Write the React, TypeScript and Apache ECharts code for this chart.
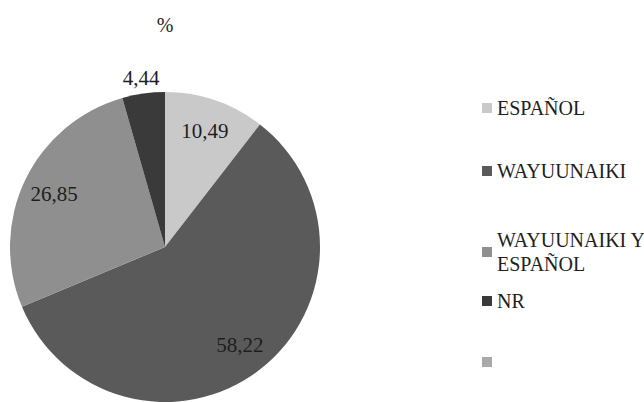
import React, { useEffect, useRef } from "react";
import * as echarts from "echarts";

const categories = ["ESPAÑOL", "WAYUUNAIKI", "WAYUUNAIKI Y\nESPAÑOL", "NR", " "];
const values = [10.49, 58.22, 26.85, 4.44, 0];
const valueLabels = ["10,49", "58,22", "26,85", "4,44", ""];
const sliceColors = ["#c9c9c9", "#5a5a5a", "#8f8f8f", "#3a3a3a", "#a9a9a9"];
const legendTops = [91, 154, 211, 284, 345];

const FONT = "'Liberation Serif', serif";

export default function App() {
  const ref = useRef<HTMLDivElement>(null);
  useEffect(() => {
    if (!ref.current) return;
    const chart = echarts.init(ref.current, null, { renderer: "svg" });
    const center = [165, 247];

    const mainData = categories.map((c, i) => ({
      name: c,
      value: values[i],
      itemStyle: { color: sliceColors[i] },
    }));
    const innerLabelData = categories.map((c, i) => ({
      name: c,
      value: values[i],
      label: { show: i < 3, formatter: valueLabels[i] },
    }));
    const outerLabelData = categories.map((c, i) => ({
      name: c,
      value: values[i],
      label: { show: i === 3, formatter: valueLabels[i] },
    }));

    const legends = categories.map((c, i) => ({
      data: [c],
      left: 477,
      top: legendTops[i],
      orient: "vertical",
      icon: "rect",
      itemWidth: 10,
      itemHeight: 10,
      selectedMode: false,
      textStyle: {
        fontFamily: FONT,
        fontSize: 20,
        color: "#1e1e1e",
        lineHeight: 24,
        padding: c.indexOf("\n") >= 0 ? [24, 0, 0, 0] : 0,
      },
    }));

    chart.setOption({
      animation: false,
      backgroundColor: "#ffffff",
      title: {
        text: "%",
        left: 160,
        top: 10,
        textAlign: "center",
        textStyle: { fontFamily: FONT, fontSize: 20, fontWeight: "normal", color: "#1e1e1e" },
      },
      legend: legends,
      series: [
        {
          type: "pie",
          center,
          radius: [0, 155],
          startAngle: 90,
          clockwise: true,
          silent: true,
          itemStyle: { borderWidth: 0 },
          label: { show: false },
          labelLine: { show: false },
          data: mainData,
        },
        {
          type: "pie",
          center,
          radius: [0, 240],
          startAngle: 90,
          clockwise: true,
          silent: true,
          legendHoverLink: false,
          itemStyle: { color: "rgba(0,0,0,0)", borderWidth: 0 },
          label: {
            position: "inside",
            fontFamily: FONT,
            fontSize: 21,
            color: "#1e1e1e",
          },
          labelLine: { show: false },
          data: innerLabelData,
        },
        {
          type: "pie",
          center,
          radius: [0, 336],
          startAngle: 90,
          clockwise: true,
          silent: true,
          legendHoverLink: false,
          itemStyle: { color: "rgba(0,0,0,0)", borderWidth: 0 },
          label: {
            position: "inside",
            fontFamily: FONT,
            fontSize: 21,
            color: "#1e1e1e",
          },
          labelLine: { show: false },
          data: outerLabelData,
        },
      ],
    });
    return () => chart.dispose();
  }, []);
  return (
    <div
      ref={ref}
      style={{ position: "fixed", left: 0, top: 0, width: 644, height: 402, background: "#fff" }}
    />
  );
}
